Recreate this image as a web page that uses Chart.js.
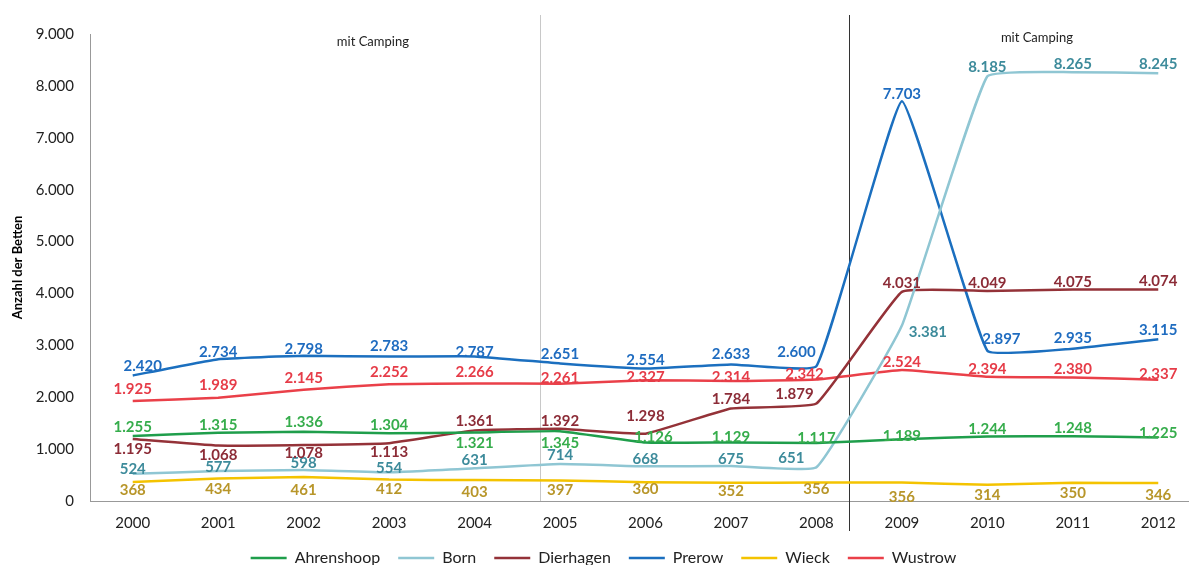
<!DOCTYPE html>
<html lang="de">
<head>
  <meta charset="UTF-8" />
  <title>Anzahl der Betten</title>
  <script src="https://cdn.jsdelivr.net/npm/chart.js"></script>
  <style>
    body { margin: 0; padding: 0; background: #fff; overflow: hidden; }
    .wrap { position: absolute; left: 0; top: 0; width: 1189px; height: 565px; overflow: hidden; }
  </style>
</head>
<body>
  <div class="wrap">
    <canvas id="chart" width="1201" height="576"></canvas>
  </div>

  <script>
    // data
    const years = ['2000','2001','2002','2003','2004','2005','2006','2007','2008','2009','2010','2011','2012'];
    const ahrenshoop = [1255, 1315, 1336, 1304, 1321, 1345, 1126, 1129, 1117, 1189, 1244, 1248, 1225];
    const born       = [524, 577, 598, 554, 631, 714, 668, 675, 651, 3381, 8185, 8265, 8245];
    const dierhagen  = [1195, 1068, 1078, 1113, 1361, 1392, 1298, 1784, 1879, 4031, 4049, 4075, 4074];
    const prerow     = [2420, 2734, 2798, 2783, 2787, 2651, 2554, 2633, 2600, 7703, 2897, 2935, 3115];
    const wieck      = [368, 434, 461, 412, 403, 397, 360, 352, 356, 356, 314, 350, 346];
    const wustrow    = [1925, 1989, 2145, 2252, 2266, 2261, 2327, 2314, 2342, 2524, 2394, 2380, 2337];
    const yTicks     = [0, 1000, 2000, 3000, 4000, 5000, 6000, 7000, 8000, 9000];

    // label placement (pixels relative to the point)
    const labelDy = {
      Ahrenshoop: [-9, -8, -10, -8, 11, 12, -5, -5, -5, -3, -7, -8, -4],
      Born:       [-5, -4, -7, -4, -8, -9, -7, -7, -9, 7, -9, -8, -9],
      Dierhagen:  [10, 10, 8, 9, -9, -8, -17, -9, -9, -9, -8, -7, -8],
      Prerow:     [-9, -7, -7, -10, -4, -9, -8, -10, -14, -7, -12, -11, -9],
      Wieck:      [8, 11, 13, 10, 12, 10, 7, 8, 7, 15, 10, 10, 12],
      Wustrow:    [-12, -13, -12, -12, -11, -6, -3, -4, -5, -8, -8, -8, -6]
    };
    const labelDx = {
      Ahrenshoop: {6: 8},
      Born: {8: -25, 9: 26},
      Dierhagen: {8: -22},
      Prerow: {0: 10, 8: -20, 10: 14},
      Wustrow: {8: -12}
    };

    const fmt = v => String(v).replace(/\B(?=(\d{3})+(?!\d))/g, '.');
    const FONT = 'Lato, "Open Sans", sans-serif';

    const series = [
      { name: 'Ahrenshoop', data: ahrenshoop, line: '#1f9e4b', text: '#36ad4c' },
      { name: 'Born',       data: born,       line: '#8fc6d3', text: '#3d8b9b' },
      { name: 'Dierhagen',  data: dierhagen,  line: '#943238', text: '#8c2c37' },
      { name: 'Prerow',     data: prerow,     line: '#1b6fbf', text: '#1f6cc0' },
      { name: 'Wieck',      data: wieck,      line: '#f4c300', text: '#b8962a' },
      { name: 'Wustrow',    data: wustrow,    line: '#ea4049', text: '#e63c48' }
    ];

    const pointLabels = {
      id: 'pointLabels',
      afterDatasetsDraw(chart) {
        const ctx = chart.ctx;
        ctx.save();
        ctx.font = 'bold 15px ' + FONT;
        ctx.textAlign = 'center';
        ctx.textBaseline = 'middle';
        chart.data.datasets.forEach((ds, di) => {
          const meta = chart.getDatasetMeta(di);
          const dys = labelDy[ds.label] || [];
          const dxs = labelDx[ds.label] || {};
          ctx.fillStyle = series[di].text;
          meta.data.forEach((pt, i) => {
            ctx.fillText(fmt(ds.data[i]), pt.x + (dxs[i] || 0), pt.y + (dys[i] || 0));
          });
        });
        ctx.restore();
      }
    };

    const separators = {
      id: 'separators',
      beforeDatasetsDraw(chart) {
        const ctx = chart.ctx;
        const x = chart.scales.x;
        const bottom = chart.chartArea.bottom;
        ctx.save();
        // first period border
        let px = Math.round(x.getPixelForValue(4.77)) + 0.5;
        ctx.strokeStyle = '#c8c8c8';
        ctx.lineWidth = 1;
        ctx.beginPath(); ctx.moveTo(px, 15); ctx.lineTo(px, bottom); ctx.stroke();
        // camping border
        px = Math.round(x.getPixelForValue(8.38)) + 0.5;
        ctx.strokeStyle = '#333';
        ctx.beginPath(); ctx.moveTo(px, 15); ctx.lineTo(px, bottom + 30); ctx.stroke();

        ctx.fillStyle = '#222';
        ctx.font = '13px ' + FONT;
        ctx.textAlign = 'center';
        ctx.textBaseline = 'middle';
        ctx.fillText('mit Camping', x.getPixelForValue(2.81), 42);
        ctx.fillText('mit Camping', x.getPixelForValue(10.58), 38);
        ctx.restore();
      }
    };

    new Chart(document.getElementById('chart'), {
      type: 'line',
      data: {
        labels: years,
        datasets: series.map(s => ({
          label: s.name,
          data: s.data,
          borderColor: s.line,
          backgroundColor: s.line,
          borderWidth: 2.5,
          pointRadius: 0,
          fill: false,
          tension: 0.1
        }))
      },
      options: {
        responsive: false,
        animation: false,
        layout: { padding: { top: 34, left: 6, right: 0, bottom: 0 } },
        plugins: {
          tooltip: { enabled: false },
          legend: {
            position: 'bottom',
            labels: {
              usePointStyle: true,
              pointStyle: 'line',
              pointStyleWidth: 36,
              boxHeight: 15,
              padding: 18,
              color: '#222',
              font: { family: FONT, size: 16 }
            }
          }
        },
        scales: {
          x: {
            offset: true,
            grid: { display: false, drawTicks: false },
            border: { display: true, color: '#999', width: 1 },
            ticks: { color: '#222', padding: 13, font: { family: FONT, size: 15 } },
            afterFit: s => { s.height = 31; }
          },
          y: {
            min: 0,
            max: 9000,
            afterBuildTicks: s => { s.ticks = yTicks.map(v => ({ value: v })); },
            grid: { display: false, drawTicks: false },
            border: { display: true, color: '#999', width: 1 },
            title: { display: true, text: 'Anzahl der Betten', color: '#000', font: { family: FONT, size: 13, weight: 'bold' }, padding: 4 },
            ticks: { color: '#222', padding: 16, font: { family: FONT, size: 15 }, callback: v => fmt(v) },
            afterFit: s => { s.width = 84; }
          }
        }
      },
      plugins: [separators, pointLabels]
    });
  </script>
</body>
</html>
